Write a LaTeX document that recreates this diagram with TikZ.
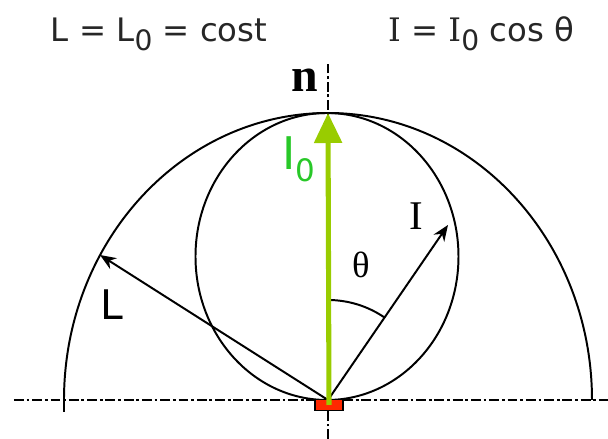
\documentclass[tikz,border=0pt]{standalone}
\usepackage{fontspec}
\setmainfont{DejaVu Sans}
\newfontfamily\romfont{Liberation Serif}
\newfontfamily\slabfont{DejaVu Serif}
\usetikzlibrary{arrows.meta}
\definecolor{normgreen}{RGB}{153,204,0}
\definecolor{labgreen}{RGB}{40,200,40}
\definecolor{srcred}{RGB}{255,40,0}
\newcommand{\lowzero}{{\fontsize{20}{22}\selectfont\raisebox{-6pt}{0}}}

\begin{document}
\begin{tikzpicture}[x=0.025cm,y=0.025cm,>={Stealth[length=4mm,width=3.2mm]},
    curve/.style={line width=1.4pt},
    ray/.style={->,line width=1.4pt},
    axisline/.style={line width=0.9pt,dash pattern=on 7pt off 2pt on 2pt off 2pt},
    nvec/.style={normgreen,line width=3.6pt,-{Triangle[length=7.5mm,width=6.8mm]}},
    src/.style={draw,fill=srcred,line width=0.9pt,minimum width=7mm,minimum height=2.8mm,inner sep=0pt},
    title/.style={font=\fontsize{23}{28}\selectfont,text=black!85,anchor=base},
    lab/.style={font=\romfont\fontsize{29}{32}\selectfont,anchor=base}]
  \useasboundingbox (-328,-39) rectangle (280,400);
  \coordinate (O) at (0,0);
  \coordinate (N) at (0,287);
  \coordinate (Ltip) at (-228,145);
  \coordinate (Itip) at (120,175);
  \coordinate (W) at (-314,0);
  \coordinate (E) at (280,0);
  \coordinate (Top) at (0,338);
  \coordinate (Bot) at (0,-39);
  \draw[axisline] (W) -- (E);
  \draw[axisline] (Bot) -- (Top);
  \draw[curve] (-264,-12) -- (-264,0) arc[start angle=180,end angle=0,x radius=264,y radius=287];
  \draw[curve] (-1,143.5) ellipse[x radius=131.5,y radius=143.5];
  \draw[ray] (O) -- (Ltip);
  \draw[ray] (O) -- (Itip);
  \draw[curve] (0,100) arc[start angle=90,end angle=55.5,radius=100];
  \node[src] (S) at (1,-5) {};
  \draw[nvec] (S.center) -- (N);
  \node[title] (Ltitle) at (-169,358) {L = L\lowzero\ = cost};
  \node[title] (Ititle) at (153,358) {{\slabfont I} = {\slabfont I}\lowzero\ cos θ};
  \node[font=\romfont\bfseries\fontsize{34}{36}\selectfont,anchor=base] (n) at (-23,308) {n};
  \node[font=\fontsize{32}{36}\selectfont,text=labgreen,anchor=base] (I0) at (-29,230) {I{\fontsize{22}{24}\selectfont\raisebox{-8pt}{0}}};
  \node[lab] (Ilab) at (88,170) {I};
  \node[lab,font=\romfont\fontsize{26}{30}\selectfont] (th) at (33,122) {θ};
  \node[font=\fontsize{29}{32}\selectfont,anchor=base] (Llab) at (-216,80) {L};
\end{tikzpicture}
\end{document}
